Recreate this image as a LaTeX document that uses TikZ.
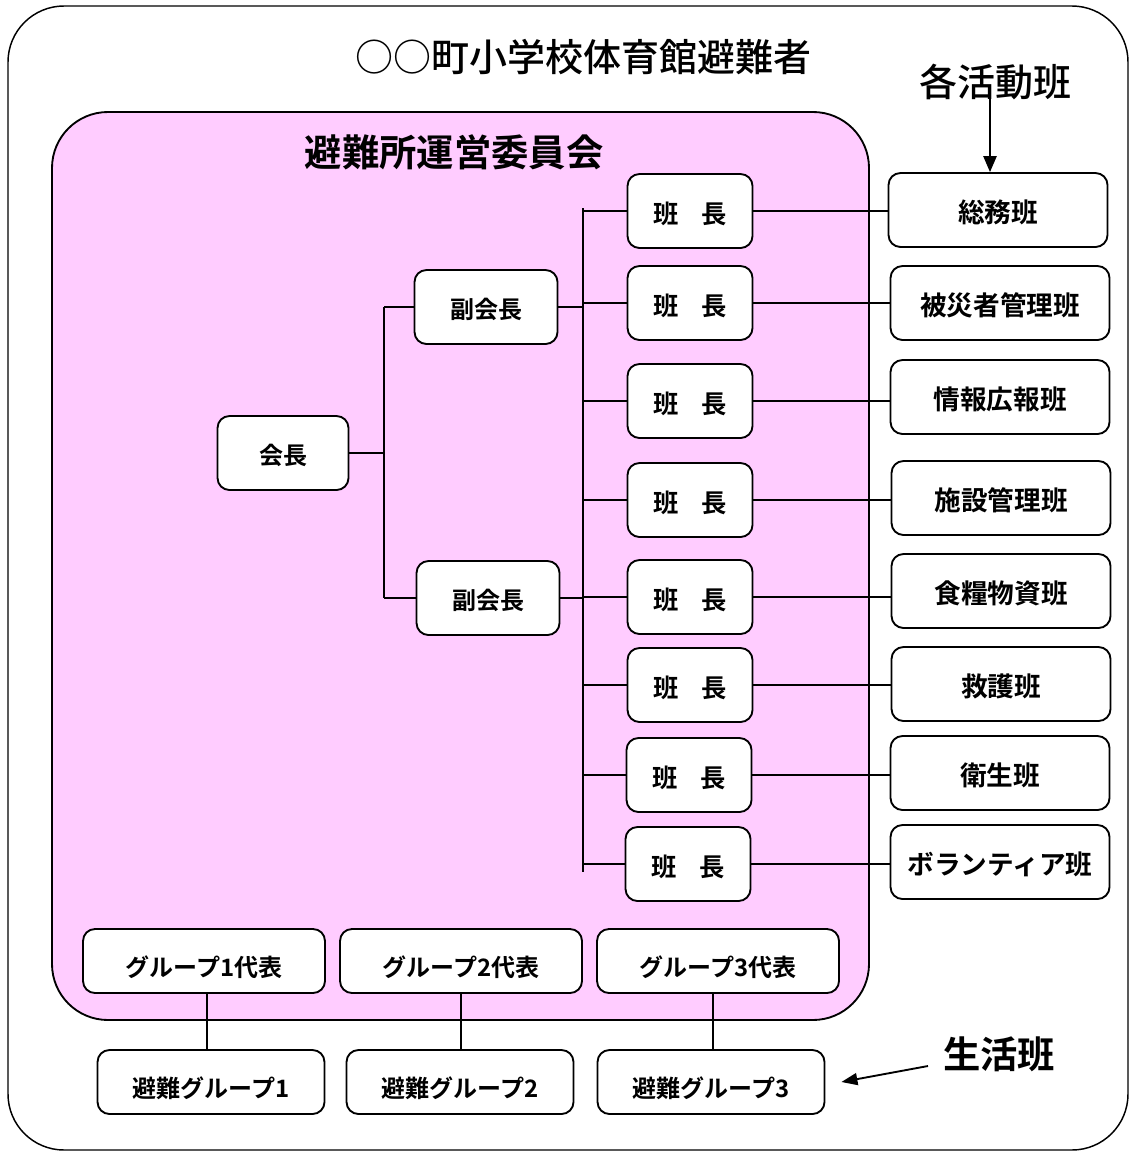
\documentclass[tikz,border=0pt]{standalone}
\usepackage{fontspec}
\setmainfont{Noto Sans CJK JP}
\newfontfamily\jpb{Noto Sans CJK JP Bold}
\newfontfamily\jpr{Noto Sans CJK JP Medium}
\usetikzlibrary{arrows.meta}
\definecolor{pinkbg}{HTML}{FFCCFF}
\tikzset{
  bx/.style={draw, line width=1.4pt, rounded corners=9pt, fill=white, inner sep=0pt, font=\jpb\fontsize{19}{19}\selectfont},
  hc/.style={bx, minimum width=93.75pt, minimum height=55.5pt},
  rb/.style={bx, minimum width=164.25pt, minimum height=55.5pt, font=\jpb\fontsize{20}{20}\selectfont},
  gp/.style={bx, minimum width=181.5pt, minimum height=48pt, font=\jpb\fontsize{18}{18}\selectfont},
  ev/.style={bx, minimum width=170.25pt, minimum height=48pt, font=\jpb\fontsize{18}{18}\selectfont},
  cn/.style={line width=1.1pt},
  thin/.style={line width=0.8pt}
}
\newcommand{\dn}[2]{\raisebox{-#1}[\height][\depth]{#2}}
\begin{document}
\begin{tikzpicture}[x=0.75pt,y=-0.75pt]
\useasboundingbox (0,0) rectangle (1136,1153);
% containers
\draw[line width=1.1pt, rounded corners=42pt] (8,6) rectangle (1128,1150);
\draw[line width=1.4pt, fill=pinkbg, rounded corners=42pt] (52,112) rectangle (869,1020);
% titles
\node[font=\jpr\fontsize{28.5}{28.5}\selectfont] (title) at (583,57) {○○町小学校体育館避難者};
\node[font=\jpb\fontsize{28}{28}\selectfont] (comm) at (454,152) {避難所運営委員会};
\node[font=\jpr\fontsize{28.5}{28.5}\selectfont] (kaku) at (995,82) {各活動班};
\node[font=\jpb\fontsize{28}{28}\selectfont] (seikatsu) at (999,1054) {生活班};
% leaders
\node[bx, minimum width=98.25pt, minimum height=55.5pt, font=\jpb\fontsize{18}{18}\selectfont] (k) at (283,453) {\dn{2pt}{会長}};
\node[bx, minimum width=107.25pt, minimum height=55.5pt, font=\jpb\fontsize{18}{18}\selectfont] (v1) at (486,307) {\dn{2pt}{副会長}};
\node[bx, minimum width=107.25pt, minimum height=55.5pt, font=\jpb\fontsize{18}{18}\selectfont] (v2) at (488,598) {\dn{2pt}{副会長}};
% han-cho
\node[hc] (h1) at (690,211) {\dn{2pt}{班\hspace{0.9em}長}};
\node[hc] (h2) at (690,303) {\dn{2pt}{班\hspace{0.9em}長}};
\node[hc] (h3) at (690,401) {\dn{2pt}{班\hspace{0.9em}長}};
\node[hc] (h4) at (690,500) {\dn{2pt}{班\hspace{0.9em}長}};
\node[hc] (h5) at (690,597) {\dn{2pt}{班\hspace{0.9em}長}};
\node[hc] (h6) at (690,685) {\dn{2pt}{班\hspace{0.9em}長}};
\node[hc] (h7) at (689,775) {\dn{2pt}{班\hspace{0.9em}長}};
\node[hc] (h8) at (688,864) {\dn{2pt}{班\hspace{0.9em}長}};
% right boxes
\node[rb] (r1) at (998,210) {\dn{2pt}{総務班}};
\node[rb] (r2) at (1000,303) {\dn{2pt}{被災者管理班}};
\node[rb] (r3) at (1000,397) {\dn{2pt}{情報広報班}};
\node[rb] (r4) at (1001,498) {\dn{2pt}{施設管理班}};
\node[rb] (r5) at (1001,591) {\dn{2pt}{食糧物資班}};
\node[rb] (r6) at (1001,684) {\dn{2pt}{救護班}};
\node[rb] (r7) at (1000,773) {\dn{2pt}{衛生班}};
\node[rb] (r8) at (1000,862) {\dn{2pt}{ボランティア班}};
% groups
\node[gp] (g1) at (204,961) {\dn{4.5pt}{グループ1代表}};
\node[gp] (g2) at (461,961) {\dn{4.5pt}{グループ2代表}};
\node[gp] (g3) at (718,961) {\dn{4.5pt}{グループ3代表}};
\node[ev] (e1) at (211,1082) {\dn{4.5pt}{避難グループ1}};
\node[ev] (e2) at (460,1082) {\dn{4.5pt}{避難グループ2}};
\node[ev] (e3) at (711,1082) {\dn{4.5pt}{避難グループ3}};
% trunk coordinates
\coordinate (kx) at (384,0);
\coordinate (tk) at (583,0);
\coordinate (t1) at (583,208);
\coordinate (t2) at (583,872);
% chair connectors
\draw[cn] (k.east) -- (kx |- k.east);
\draw[cn] (kx |- v1.west) -- (kx |- v2.west);
\draw[cn] (kx |- v1.west) -- (v1.west);
\draw[cn] (kx |- v2.west) -- (v2.west);
\draw[cn] (v1.east) -- (tk |- v1.east);
\draw[cn] (v2.east) -- (tk |- v2.east);
% trunk
\draw[cn] (t1) -- (t2);
\foreach \i in {1,...,8} {
  \draw[cn] (tk |- h\i.west) -- (h\i.west);
  \draw[cn] (h\i.east) -- (h\i.east -| r\i.west);
}
% group links
\draw[thin] ([xshift=2.25pt]g1.south) -- ([xshift=2.25pt]g1.south |- e1.north);
\draw[thin] (g2.south) -- (g2.south |- e2.north);
\draw[thin] ([xshift=-3.75pt]g3.south) -- ([xshift=-3.75pt]g3.south |- e3.north);
% arrows
\coordinate (ka) at (990,96);
\draw[cn, -{Triangle[length=12pt,width=10pt]}] (ka) -- (ka |- r1.north);
\coordinate (sa) at (928,1066);
\draw[line width=1.4pt, -{Triangle[length=12pt,width=9pt]}] (sa) -- ([xshift=12pt]e3.east);
\end{tikzpicture}
\end{document}
